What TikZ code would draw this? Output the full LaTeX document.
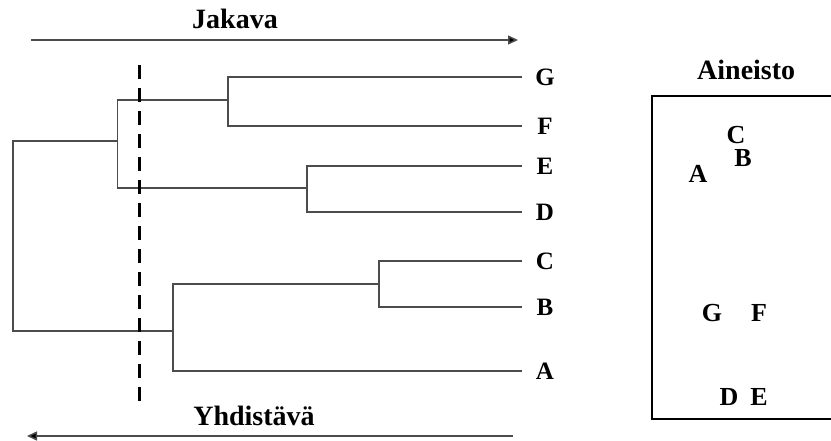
\documentclass[tikz,border=0pt]{standalone}
\usepackage{fontspec}
\setmainfont{Liberation Serif}
\usetikzlibrary{arrows.meta}
\begin{document}
\begin{tikzpicture}[x=1pt,y=-1pt,
  leaf/.style={font=\fontsize{25}{27}\selectfont\bfseries, inner sep=0pt},
  ttl/.style={font=\fontsize{28}{32}\selectfont\bfseries, inner sep=0pt},
  pt/.style={font=\fontsize{26}{28}\selectfont\bfseries, inner sep=0pt},
  tree/.style={line width=1.1pt, draw=black!70},
  dirarrow/.style={line width=1.5pt, draw=black!70, -{Triangle[length=10pt,width=9pt,fill=black]}},
  cut/.style={line width=2.8pt, draw=black, dash pattern=on 14pt off 9pt},
  frame/.style={line width=1.5pt, draw=black}]
\useasboundingbox (0,0) rectangle (831,441);
% titles and direction arrows
\node[ttl] (jak) at (235,19) {Jakava};
\coordinate (ja1) at (31,40);
\coordinate (ja2) at (518,40);
\draw[dirarrow] (ja1) -- (ja2);
\node[ttl] (yhd) at (254,416) {Yhdistävä};
\coordinate (ya1) at (513,436);
\coordinate (ya2) at (27,436);
\draw[dirarrow] (ya1) -- (ya2);
% leaf labels
\node[leaf] (G) at (545,77) {G};
\node[leaf] (F) at (545,126) {F};
\node[leaf] (E) at (545,166) {E};
\node[leaf] (D) at (545,212) {D};
\node[leaf] (C) at (545,261) {C};
\node[leaf] (B) at (545,307) {B};
\node[leaf] (A) at (545,371) {A};
% leaf line ends
\coordinate (tG) at (522,77);
\coordinate (tF) at (522,126);
\coordinate (tE) at (522,166);
\coordinate (tD) at (522,212);
\coordinate (tC) at (522,261);
\coordinate (tB) at (522,307);
\coordinate (tA) at (522,371);
% cluster joins
\coordinate (nGF) at (228,100);
\coordinate (nED) at (307,188);
\coordinate (nGFED) at (117.5,141);
\coordinate (nCB) at (379,284);
\coordinate (nCBA) at (173,331);
\coordinate (nR) at (13,236);
\draw[tree] (tG) -| (nGF) |- (tF);
\draw[tree] (tE) -| (nED) |- (tD);
\draw[tree] (nGF) -| (nGFED) |- (nED);
\draw[tree] (tC) -| (nCB) |- (tB);
\draw[tree] (nCB) -| (nCBA) |- (tA);
\draw[tree] (nGFED) -| (nR) |- (nCBA);
% cut line
\coordinate (cTop) at (139.5,65);
\coordinate (cBot) at (139.5,408);
\draw[cut] (cTop) -- (cBot);
% data panel
\node[ttl, anchor=base west] (ain) at (697,80) {Aineisto};
\coordinate (fTR) at (832,96);
\coordinate (fTL) at (652,96);
\coordinate (fBL) at (652,419);
\coordinate (fBR) at (832,419);
\draw[frame] (fTR) -- (fTL) -- (fBL) -- (fBR);
\node[pt] (pC) at (736,135) {C};
\node[pt] (pB) at (743,158) {B};
\node[pt] (pA) at (698,174) {A};
\node[pt] (pG) at (712,313) {G};
\node[pt] (pF) at (759,313) {F};
\node[pt] (pD) at (729,397) {D};
\node[pt] (pE) at (759,397) {E};
\end{tikzpicture}
\end{document}
